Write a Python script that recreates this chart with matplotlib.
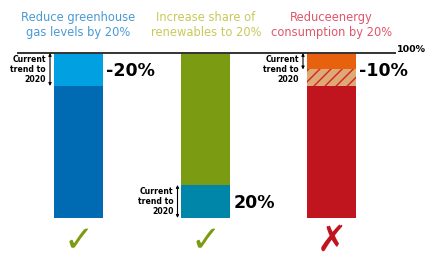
import numpy as np
import matplotlib.pyplot as plt

# ---- data ----
titles = ["Reduce greenhouse\ngas levels by 20%",
          "Increase share of\nrenewables to 20%",
          "Reduceenergy\nconsumption by 20%"]
lower_seg = [80, 20, 80]      # bottom block of each bar (%)
middle_seg = [0, 0, 10]       # hatched shortfall (%)
upper_seg = [20, 80, 10]      # top block (%)
trend_lo = [80, 0, 90]        # "current trend to 2020" arrow span
trend_hi = [100, 20, 100]
trend_labels = ["-20%", "20%", "-10%"]
target_met = [True, True, False]

# ---- style ----
title_colors = ["#4a9ad4", "#c9c95a", "#e0566a"]
lower_colors = ["#006bb3", "#0086a8", "#c0141f"]
upper_colors = ["#00a0e1", "#7b9c12", "#e8610f"]
hatch_face = "#dcaa72"
hatch_edge = "#d8202c"
mark_colors = {True: "#7b9c12", False: "#c0141f"}

plt.rcParams["font.family"] = ["DejaVu Sans"]
plt.rcParams["hatch.linewidth"] = 1.0

x = np.array([78.5, 206, 331.5])
w = 49

fig = plt.figure(figsize=(4.27, 2.6), dpi=100)
ax = fig.add_axes([0, 0, 1, 1])
ax.set_xlim(0, 427)
ax.set_ylim(-25.5, 132.1)
ax.axis("off")

lower = np.array(lower_seg)
middle = np.array(middle_seg)
upper = np.array(upper_seg)
ax.bar(x, lower, width=w, color=lower_colors, linewidth=0)
ax.bar(x, middle, bottom=lower, width=w, color=hatch_face, edgecolor=hatch_edge,
       hatch="///", linewidth=0)
ax.bar(x, upper, bottom=lower + middle, width=w, color=upper_colors, linewidth=0)

# 100% reference line
ax.plot([17, 396], [100, 100], color="#333333", lw=1.4, solid_capstyle="butt")
ax.text(396.5, 102, "100%", fontsize=6.8, fontweight="bold", va="center", ha="left")

for i in range(3):
    left = x[i] - w / 2
    ax.text(x[i], 117, titles[i], ha="center", va="center", fontsize=8.3,
            color=title_colors[i], linespacing=1.2)
    # arrow + "current trend" note
    ax.annotate("", xy=(left - 4, trend_lo[i]), xytext=(left - 4, trend_hi[i]),
                arrowprops=dict(arrowstyle="<|-|>", lw=0.8, color="black",
                                mutation_scale=4, shrinkA=0, shrinkB=0))
    span_lo = trend_lo[i] - middle_seg[i]
    ax.text(left - 8, (span_lo + trend_hi[i]) / 2, "Current\ntrend to\n2020",
            ha="right", va="center", fontsize=5.6, fontweight="bold",
            linespacing=1.15)
    ax.text(x[i] + w / 2 + 3, (span_lo + trend_hi[i]) / 2 - 1, trend_labels[i],
            ha="left", va="center", fontsize=12.5, fontweight="bold")
    ax.text(x[i], -14, "\u2713" if target_met[i] else "\u2717", ha="center",
            va="center", fontsize=26, fontweight="bold",
            color=mark_colors[target_met[i]])

fig.savefig("out.png", dpi=100)
